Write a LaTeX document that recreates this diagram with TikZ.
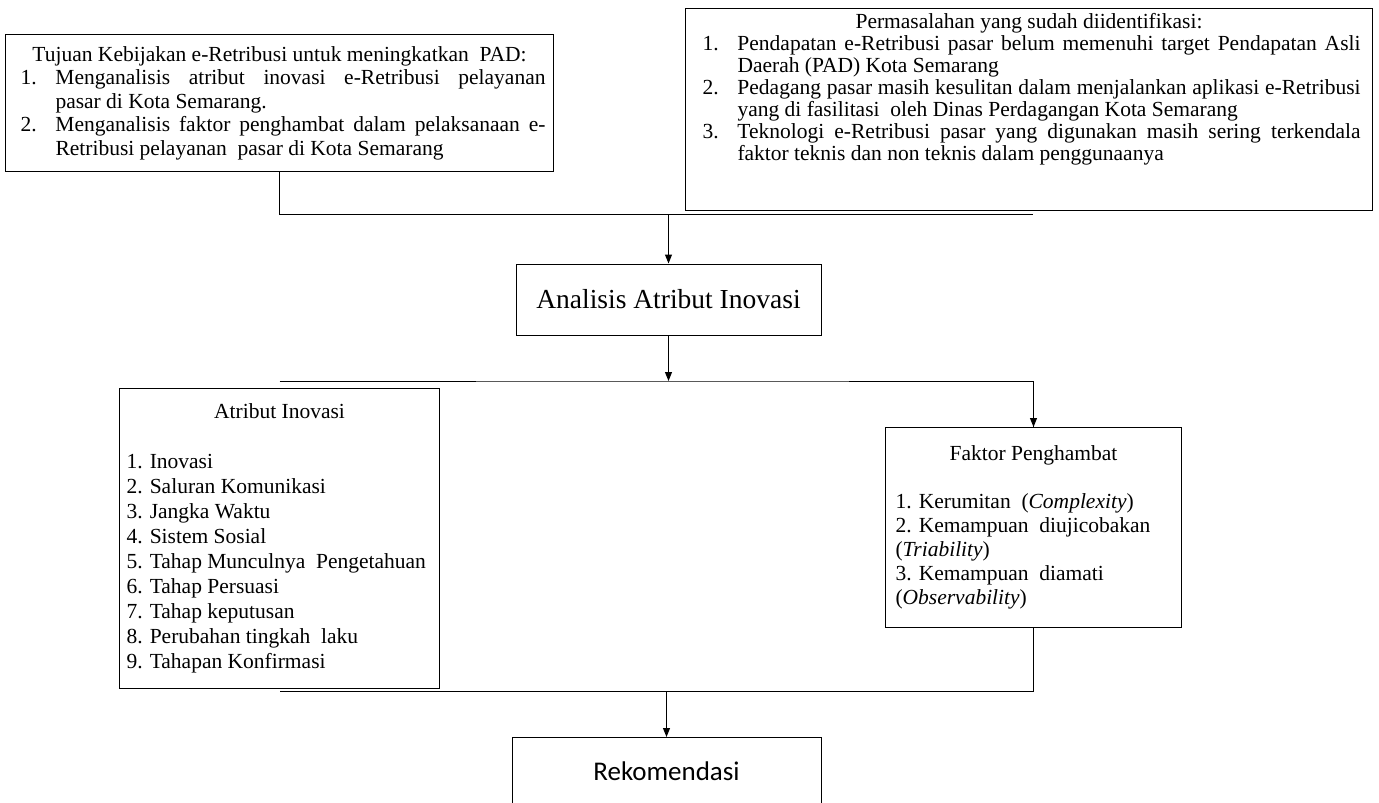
\documentclass[tikz,border=0pt]{standalone}
\usepackage{fontspec}
\setmainfont{Liberation Serif}
\newfontfamily\rekomfont{Carlito}
\usetikzlibrary{arrows.meta}

\newcommand{\numbox}[1]{\makebox[35pt][l]{#1}}

\begin{document}
\begin{tikzpicture}[x=1pt, y=-1pt,
    box/.style={draw, line width=1pt, inner sep=0pt},
    txt/.style={font=\fontsize{21.5}{23.5}\selectfont},
    arr/.style={-{Triangle[length=9pt, width=7pt]}, line width=1pt}]
  \useasboundingbox (0,0) rectangle (1379,803);

  % Tujuan
  \node[box, txt, anchor=north west, text width=548pt, minimum height=137pt, align=flush left]
    (tujuan) at (5,34) {%
    \makebox[548pt]{Tujuan Kebijakan e-Retribusi untuk meningkatkan\ \ PAD:}\\
    \hspace*{15pt}\numbox{1.}\makebox[490pt][s]{Menganalisis atribut inovasi e-Retribusi pelayanan}\\
    \hspace*{50pt}pasar di Kota Semarang.\\
    \hspace*{15pt}\numbox{2.}\makebox[490pt][s]{Menganalisis faktor penghambat dalam pelaksanaan e-}\\
    \hspace*{50pt}Retribusi pelayanan\ \ pasar di Kota Semarang};

  % Permasalahan
  \node[box, font=\fontsize{21.5}{22}\selectfont, anchor=north west, text width=687pt,
    minimum height=202pt, align=flush left] (masalah) at (685,8) {%
    \makebox[687pt]{Permasalahan yang sudah diidentifikasi:}\\
    \hspace*{17pt}\numbox{1.}\makebox[623pt][s]{Pendapatan e-Retribusi pasar belum memenuhi target Pendapatan Asli}\\
    \hspace*{52pt}Daerah (PAD) Kota Semarang\\
    \hspace*{17pt}\numbox{2.}\makebox[623pt][s]{Pedagang pasar masih kesulitan dalam menjalankan aplikasi e-Retribusi}\\
    \hspace*{52pt}yang di fasilitasi\ \ oleh Dinas Perdagangan Kota Semarang\\
    \hspace*{17pt}\numbox{3.}\makebox[623pt][s]{Teknologi e-Retribusi pasar yang digunakan masih sering terkendala}\\
    \hspace*{52pt}faktor teknis dan non teknis dalam penggunaanya\rule[-45pt]{0pt}{0pt}};

  % Analisis
  \node[box, font=\fontsize{27.5}{30}\selectfont, minimum width=305pt, minimum height=71pt]
    (analisis) at (668.5,299.5) {Analisis Atribut Inovasi};

  % Atribut Inovasi
  \node[box, font=\fontsize{21.5}{25}\selectfont, anchor=north west, text width=320pt,
    minimum height=300pt, align=flush left] (atribut) at (119,388) {%
    \makebox[320pt]{Atribut Inovasi}\\[25pt]
    \hspace*{7pt}1. Inovasi\\
    \hspace*{7pt}2. Saluran Komunikasi\\
    \hspace*{7pt}3. Jangka Waktu\\
    \hspace*{7pt}4. Sistem Sosial\\
    \hspace*{7pt}5. Tahap Munculnya\ \ Pengetahuan\\
    \hspace*{7pt}6. Tahap Persuasi\\
    \hspace*{7pt}7. Tahap keputusan\\
    \hspace*{7pt}8. Perubahan tingkah\ \ laku\\
    \hspace*{7pt}9. Tahapan Konfirmasi};

  % Faktor Penghambat
  \node[box, font=\fontsize{21.5}{24}\selectfont, anchor=north west, text width=296pt,
    minimum height=200pt, align=flush left] (faktor) at (885,427) {%
    \makebox[296pt]{Faktor Penghambat}\\[24pt]
    \hspace*{10pt}1. Kerumitan\ \ (\textit{Complexity})\\
    \hspace*{10pt}2. Kemampuan\ \ diujicobakan\\
    \hspace*{10pt}(\textit{Triability})\\
    \hspace*{10pt}3. Kemampuan\ \ diamati\\
    \hspace*{10pt}(\textit{Observability})};

  % Rekomendasi
  \node[box, font=\rekomfont\fontsize{27}{30}\selectfont, anchor=north, minimum width=309pt]
    (rekom) at (666.5,737) {\rule[-70pt]{0pt}{113pt}Rekomendasi};

  % top join
  \coordinate (top) at (1033,214);
  \draw[line width=1pt] (tujuan.south) |- (top);
  \draw[arr] (analisis.north |- top) -- (analisis.north);

  % middle split
  \coordinate (split) at (668.5,381);
  \draw[arr] (analisis.south) -- (split);
  \draw[line width=1pt] (atribut.north |- split) -- (split) -| (faktor.north) ;
  \draw[arr] (faktor.north |- split) -- (faktor.north);

  % bottom join
  \coordinate (low) at (668.5,691);
  \draw[line width=1pt] (faktor.south) |- (atribut.south |- low);
  \draw[arr] (rekom.north |- low) -- (rekom.north);
\end{tikzpicture}
\end{document}
